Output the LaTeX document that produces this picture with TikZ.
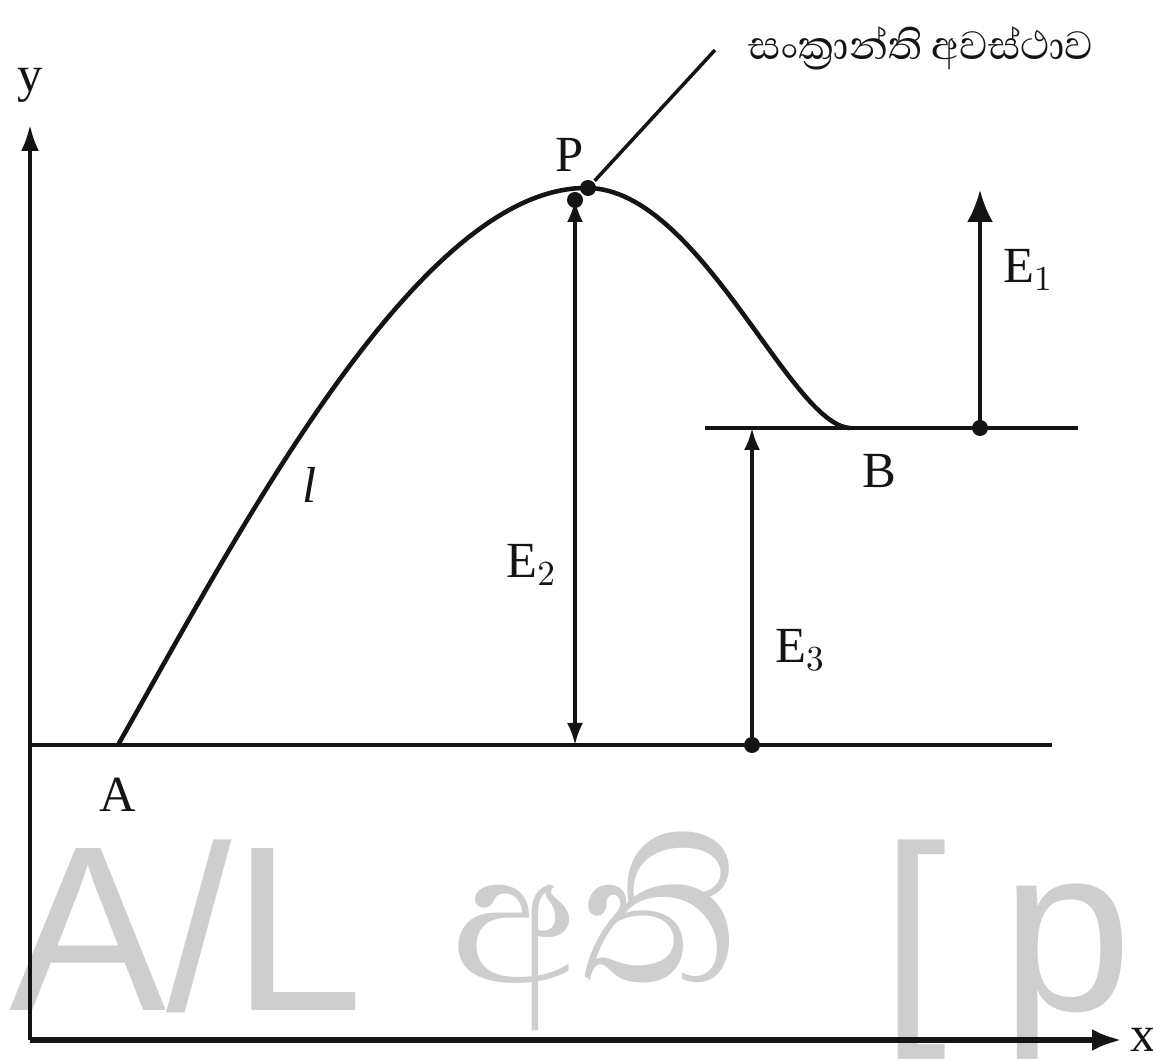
\documentclass[tikz,border=0pt]{standalone}
\usepackage{fontspec}
\setmainfont{Liberation Serif}
\newfontfamily\sinfont[Script=Sinhala]{Abhaya Libre}
\newfontfamily\wmsans{Liberation Sans}
\usetikzlibrary{arrows.meta,positioning}
\definecolor{WmGray}{RGB}{206,206,206}
\definecolor{InkK}{RGB}{20,20,20}

\begin{document}
\begin{tikzpicture}[line width=1pt,InkK,
    lab/.style={font=\Large,inner sep=1pt},
    elab/.style={font=\Large,inner sep=1pt,anchor=west},
    wm/.style={WmGray,font=\fontsize{67}{67}\selectfont,inner sep=0pt,anchor=base west},
    earrow/.style={line width=1pt,{Latex[length=2.2mm,width=1.6mm]}-{Latex[length=2.2mm,width=1.6mm]}},
    dotend/.style={fill=InkK,circle,inner sep=0pt,minimum size=1.6mm}]
  \useasboundingbox (0,0) rectangle (11.53,10.60);
  % watermark
  \node[wm] (wmAL) at (0.08,0.5) {\wmsans A/L};
  \node[wm] (wmSi) at (4.5,0.78) {\sinfont අති};
  \node[wm] (wmBr) at (8.8,0.5) {\wmsans [};
  \node[wm] (wmP) at (10.0,0.5) {\wmsans p};

  % axes
  \coordinate (O) at (0.3,0.2);
  \coordinate (ytop) at (0.3,9.35);
  \coordinate (xend) at (11.22,0.2);
  \draw[line width=1pt,-{Latex[length=2.6mm,width=1.8mm]}] (O) -- (ytop);
  \draw[line width=1.8pt,-{Latex[length=3mm,width=2.2mm]}] (O) -- (xend);
  \node[lab] (ylab) at (0.3,9.75) {y};
  \node[lab,right=1pt of xend] (xlab) {x};

  % energy levels
  \coordinate (lvlAl) at (0.3,3.15);
  \coordinate (lvlAr) at (10.52,3.15);
  \coordinate (lvlBl) at (7.05,6.32);
  \coordinate (lvlBr) at (10.78,6.32);
  \draw[line width=1.2pt] (lvlAl) -- (lvlAr);
  \draw[line width=1.2pt] (lvlBl) -- (lvlBr);

  % reaction path
  \coordinate (A) at (1.18,3.15);
  \coordinate (P) at (5.88,8.72);
  \coordinate (B) at (8.5,6.32);
  \draw[line width=1.3pt] (A) .. controls (2.4,5.3) and (4.2,8.75) .. (P)
    .. controls (7.0,8.7) and (7.9,6.35) .. (B);
  \node[lab,below=8pt of A] (Alab) {A};
  \node[lab,below right=6pt and 2pt of B] (Blab) {B};
  \node[lab] (Plab) at (5.7,9.05) {P};
  \node[font=\Large\itshape] (Ilab) at (3.1,5.75) {l};

  % transition state label
  \node[dotend] (Pdot) at (P) {};
  \coordinate (lead) at (7.15,10.1);
  \draw[line width=1pt] (Pdot) -- (lead);
  \node[font=\Large\sinfont,anchor=west] (tslab) at (7.35,10.12) {සංක්‍රාන්ති අවස්ථාව};

  % energies
  \coordinate (e2top) at (5.75,8.6);
  \coordinate (e2bot) at (5.75,3.15);
  \draw[earrow] (e2bot) -- (e2top);
  \node[dotend] at (e2top) {};
  \node[lab,anchor=east] (E2) at (5.62,4.95) {E$_{2}$};

  \coordinate (e3bot) at (7.52,3.15);
  \coordinate (e3top) at (7.52,6.32);
  \draw[line width=1pt,-{Latex[length=2.2mm,width=1.6mm]}] (e3bot) -- (e3top);
  \node[dotend] at (e3bot) {};
  \node[elab] (E3) at (7.7,4.1) {E$_{3}$};

  \coordinate (e1bot) at (9.8,6.32);
  \coordinate (e1top) at (9.8,8.7);
  \draw[line width=1.1pt,-{Latex[length=3.2mm,width=2.6mm]}] (e1bot) -- (e1top);
  \node[dotend] at (e1bot) {};
  \node[elab] (E1) at (9.98,7.9) {E$_{1}$};
\end{tikzpicture}
\end{document}
